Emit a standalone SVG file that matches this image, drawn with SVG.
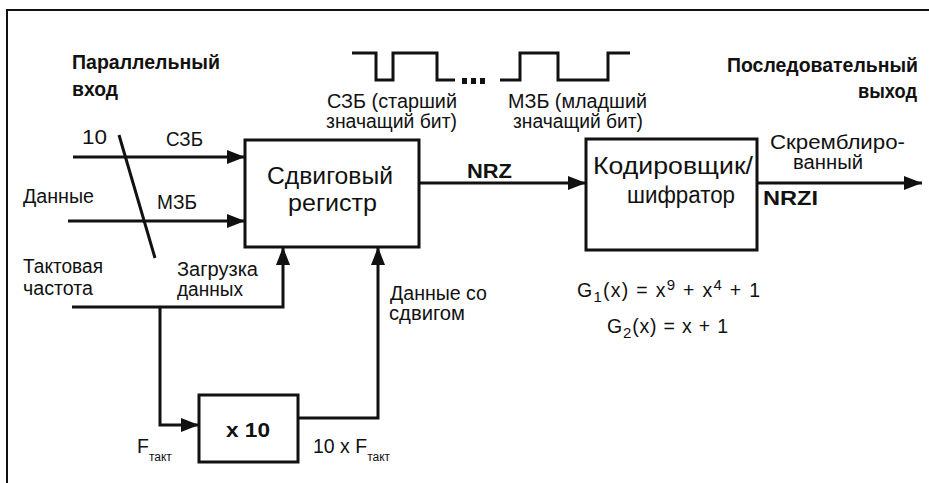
<svg xmlns="http://www.w3.org/2000/svg" width="929" height="483" viewBox="0 0 929 483">
<style>
.t{font-family:"Liberation Sans",Arial,sans-serif;font-size:19.5px;fill:#111}
.b{font-weight:bold;font-size:20.5px}
.big{font-size:23px}
.sub{font-size:12px}
.ln{fill:none;stroke:#111;stroke-width:3}
.box{fill:#fff;stroke:#111;stroke-width:3}
</style>
<defs>
<marker id="ah" markerUnits="userSpaceOnUse" markerWidth="18" markerHeight="14" refX="18" refY="7" orient="auto">
<path d="M0,0 L18,7 L0,14 z" fill="#111"/>
</marker>
</defs>
<rect width="929" height="483" fill="#fff"/>
<path d="M7,483 V10 H929" fill="none" stroke="#111" stroke-width="2"/>

<g id="labels">
<text class="t b" x="72" y="69" textLength="148" lengthAdjust="spacingAndGlyphs">Параллельный</text>
<text class="t b" x="72" y="96" textLength="46" lengthAdjust="spacingAndGlyphs">вход</text>
<text class="t b" x="727" y="72" textLength="191" lengthAdjust="spacingAndGlyphs">Последовательный</text>
<text class="t b" x="858" y="98" textLength="59" lengthAdjust="spacingAndGlyphs">выход</text>
<text class="t" x="82" y="144" textLength="25" lengthAdjust="spacingAndGlyphs">10</text>
<text class="t" x="166" y="146" textLength="37" lengthAdjust="spacingAndGlyphs">СЗБ</text>
<text class="t" x="23" y="203" textLength="71" lengthAdjust="spacingAndGlyphs">Данные</text>
<text class="t" x="157" y="209" textLength="40" lengthAdjust="spacingAndGlyphs">МЗБ</text>
<text class="t" x="23" y="273" textLength="80" lengthAdjust="spacingAndGlyphs">Тактовая</text>
<text class="t" x="23" y="295" textLength="70" lengthAdjust="spacingAndGlyphs">частота</text>
<text class="t" x="177" y="276" textLength="81" lengthAdjust="spacingAndGlyphs">Загрузка</text>
<text class="t" x="177" y="296" textLength="66" lengthAdjust="spacingAndGlyphs">данных</text>
<text class="t" x="390" y="300" textLength="97" lengthAdjust="spacingAndGlyphs">Данные со</text>
<text class="t" x="389" y="320" textLength="76" lengthAdjust="spacingAndGlyphs">сдвигом</text>
<text class="t" x="137" y="453" font-size="18">F<tspan class="sub" dy="8">такт</tspan></text>
<text class="t" x="313" y="453" font-size="18">10 x F<tspan class="sub" dy="8">такт</tspan></text>
<text class="t" x="327" y="108" textLength="130" lengthAdjust="spacingAndGlyphs">СЗБ (старший</text>
<text class="t" x="326" y="128" textLength="131" lengthAdjust="spacingAndGlyphs">значащий бит)</text>
<text class="t" x="508" y="108" textLength="139" lengthAdjust="spacingAndGlyphs">МЗБ (младший</text>
<text class="t" x="513" y="128" textLength="130" lengthAdjust="spacingAndGlyphs">значащий бит)</text>
<text class="t b" x="467" y="178" font-size="19" textLength="45" lengthAdjust="spacingAndGlyphs">NRZ</text>
<text class="t" x="770" y="149" font-size="16.5" textLength="135" lengthAdjust="spacingAndGlyphs">Скремблиро-</text>
<text class="t" x="793" y="169" font-size="16.5" textLength="70" lengthAdjust="spacingAndGlyphs">ванный</text>
<text class="t b" x="763" y="205" font-size="19" textLength="55" lengthAdjust="spacingAndGlyphs">NRZI</text>
<text class="t" x="577" y="297" font-size="19" textLength="183" lengthAdjust="spacing">G<tspan font-size="15" dy="5">1</tspan><tspan dy="-5">(x) = x</tspan><tspan font-size="15" dy="-7">9</tspan><tspan dy="7"> + x</tspan><tspan font-size="15" dy="-7">4</tspan><tspan dy="7"> + 1</tspan></text>
<text class="t" x="607" y="333" font-size="19" textLength="121" lengthAdjust="spacing">G<tspan font-size="15" dy="5">2</tspan><tspan dy="-5">(x) = x + 1</tspan></text>
</g>

<g id="waveform">
<path class="ln" stroke-width="3.5" d="M352,53 H376 V80 H393 V53 H437 V80 H455 M500,80 H520 V53 H558 V80 H608 V53 H630"/>
<rect x="462" y="78" width="5" height="6" fill="#111"/>
<rect x="471" y="78" width="5" height="6" fill="#111"/>
<rect x="480" y="78" width="5" height="6" fill="#111"/>
</g>

<g id="connectors">
<path class="ln" d="M73,157 H245" marker-end="url(#ah)"/>
<path class="ln" d="M68,221 H245" marker-end="url(#ah)"/>
<path class="ln" stroke-width="2.5" d="M119,135 L155,258"/>
<path class="ln" d="M72,307 H283 V247" marker-end="url(#ah)"/>
<path class="ln" d="M160,307 V425 H199" marker-end="url(#ah)"/>
<path class="ln" d="M298,418 H378 V247" marker-end="url(#ah)"/>
<path class="ln" d="M419,183 H586" marker-end="url(#ah)"/>
<path class="ln" d="M757,183 H922" marker-end="url(#ah)"/>
</g>

<g id="shift-register">
<rect class="box" x="245" y="140" width="174" height="107"/>
<text class="t big" x="267" y="184" textLength="126" lengthAdjust="spacingAndGlyphs">Сдвиговый</text>
<text class="t big" x="288" y="211" textLength="89" lengthAdjust="spacingAndGlyphs">регистр</text>
</g>

<g id="encoder">
<rect class="box" x="586" y="139" width="171" height="111"/>
<text class="t big" x="593" y="174" font-size="24" textLength="160" lengthAdjust="spacingAndGlyphs">Кодировщик/</text>
<text class="t big" x="627" y="203" font-size="24" textLength="108" lengthAdjust="spacingAndGlyphs">шифратор</text>
</g>

<g id="multiplier">
<rect class="box" x="199" y="395" width="99" height="67"/>
<text class="t b" x="226" y="437" font-size="21" textLength="44" lengthAdjust="spacingAndGlyphs">x 10</text>
</g>
</svg>
